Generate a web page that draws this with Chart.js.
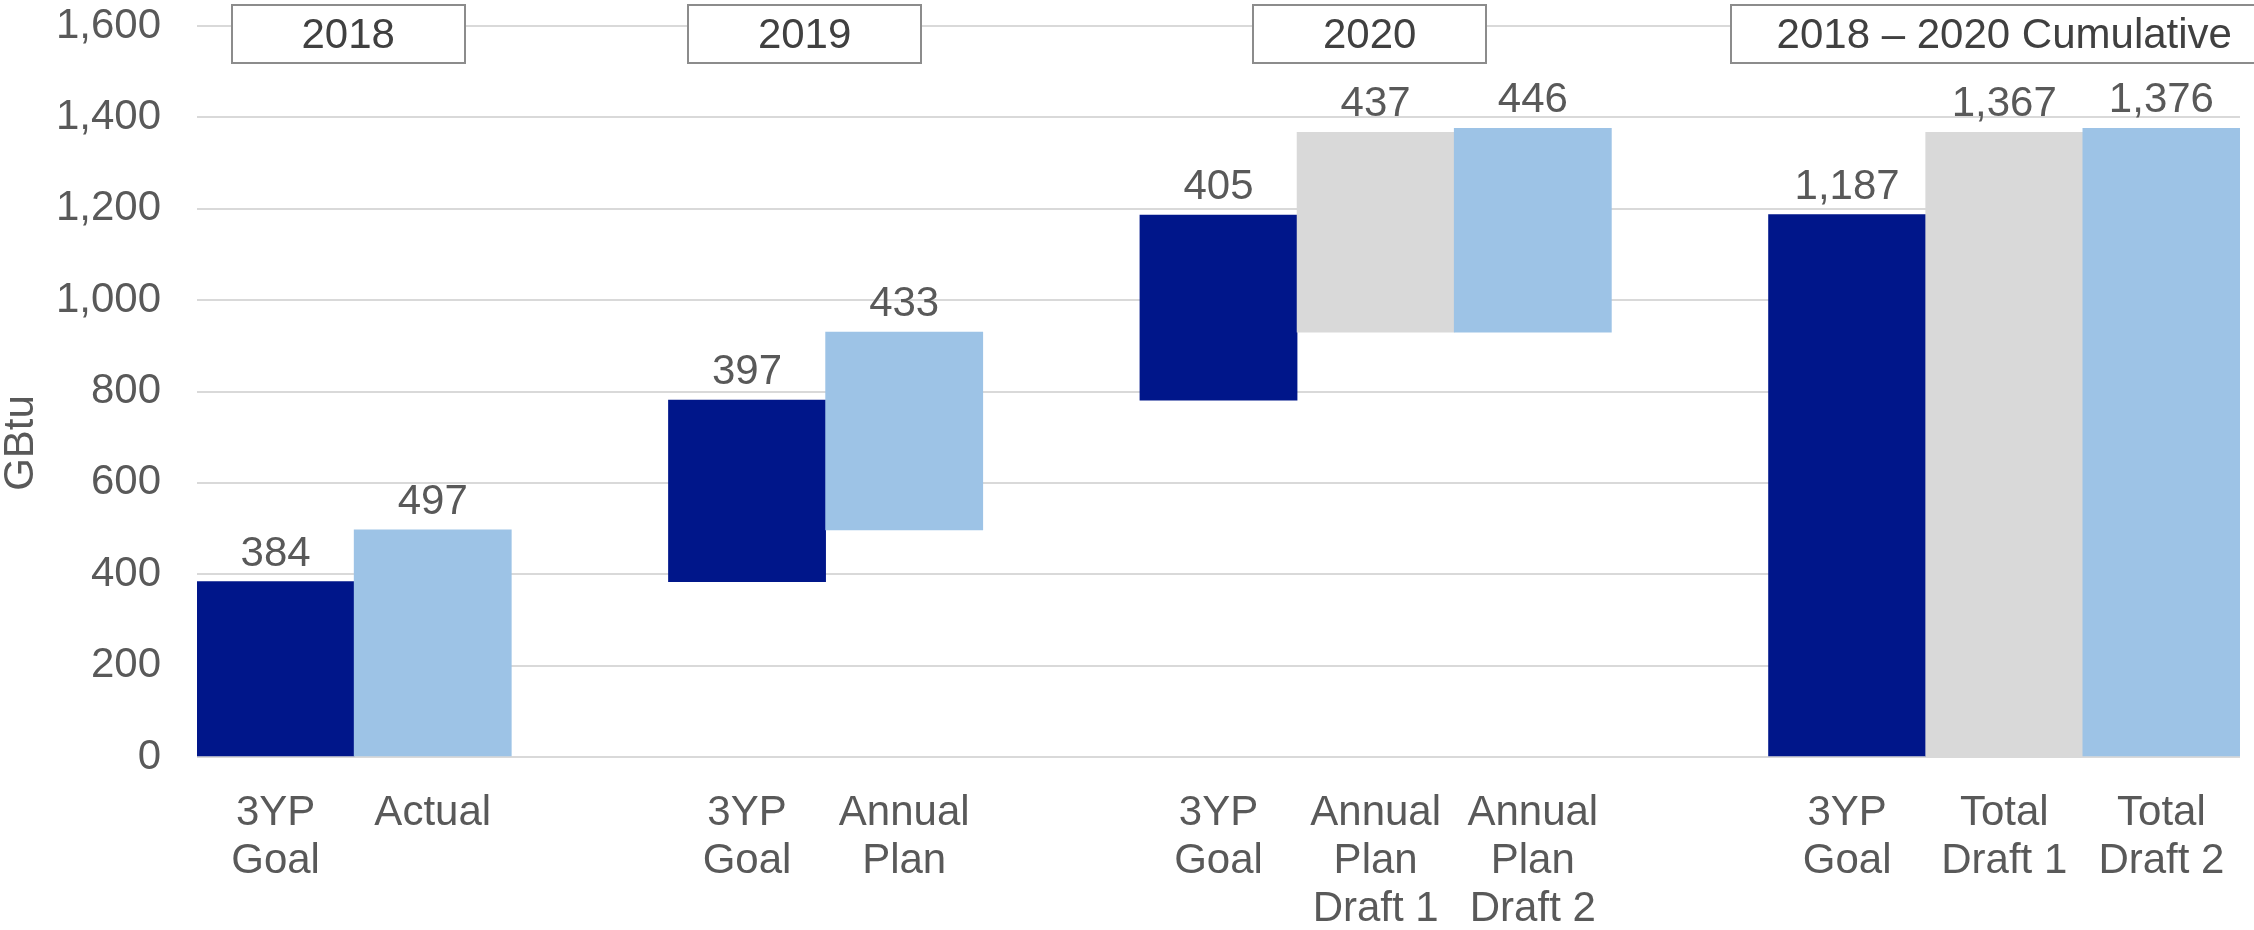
<!DOCTYPE html>
<html>
<head>
<meta charset="utf-8">
<script src="https://cdn.jsdelivr.net/npm/chart.js@4.4.1/dist/chart.umd.min.js"></script>
<style>
  html, body { margin: 0; padding: 0; background: #ffffff; }
  #wrap { width: 2254px; height: 930px; position: relative; }
</style>
</head>
<body>
<div id="wrap"><canvas id="gbtuChart"></canvas></div>
<script>
// categories (empty slots are the gaps between the year groups)
const categories = [
  ['3YP', 'Goal'], ['Actual'], '',
  ['3YP', 'Goal'], ['Annual', 'Plan'], '',
  ['3YP', 'Goal'], ['Annual', 'Plan', 'Draft 1'], ['Annual', 'Plan', 'Draft 2'], '',
  ['3YP', 'Goal'], ['Total', 'Draft 1'], ['Total', 'Draft 2']
];
// where each floating bar starts, and its shown value
const barBase  = [0, 0, null, 384, 497, null, 781, 930, 930, null, 0, 0, 0];
const barValue = [384, 497, null, 397, 433, null, 405, 437, 446, null, 1187, 1367, 1376];
// kind of bar: goal / plan / draft1
const barKind  = ['goal', 'plan', null, 'goal', 'plan', null, 'goal', 'draft1', 'plan', null, 'goal', 'draft1', 'plan'];
// year header boxes: label, first and last category index
const groupLabels = ['2018', '2019', '2020', '2018 \u2013 2020 Cumulative'];
const groupFirst  = [0, 3, 6, 10];
const groupLast   = [1, 4, 8, 12];
const yTicks = [0, 200, 400, 600, 800, 1000, 1200, 1400, 1600];
const yTitle = 'GBtu';

const kindColor = { goal: '#00168A', plan: '#9DC3E6', draft1: '#D9D9D9' };
const FONT = '"Liberation Sans", Arial, sans-serif';
const TXT = '#595959';
const FSIZE = 42;

const floating = barBase.map((b, i) => b === null ? null : [b, b + barValue[i]]);

// value labels above each bar
const valueLabels = {
  id: 'valueLabels',
  afterDatasetsDraw(chart) {
    const ctx = chart.ctx;
    const meta = chart.getDatasetMeta(0);
    ctx.save();
    ctx.font = FSIZE + 'px ' + FONT;
    ctx.fillStyle = TXT;
    ctx.textAlign = 'center';
    ctx.textBaseline = 'alphabetic';
    meta.data.forEach((bar, i) => {
      if (barValue[i] === null) return;
      ctx.fillText(barValue[i].toLocaleString('en-US'), bar.x, bar.y - 16);
    });
    ctx.restore();
  }
};

// boxed year headers along the top, plus the rotated axis title
const groupBoxes = {
  id: 'groupBoxes',
  afterDraw(chart, args, opts) {
    const ctx = chart.ctx;
    const x = chart.scales.x;
    ctx.save();
    groupLabels.forEach((lbl, g) => {
      const cx = (x.getPixelForValue(groupFirst[g]) + x.getPixelForValue(groupLast[g])) / 2 + opts.offsets[g];
      const w = opts.widths[g];
      const left = Math.round(cx - w / 2);
      ctx.fillStyle = '#ffffff';
      ctx.fillRect(left, opts.top, w, opts.height);
      ctx.strokeStyle = '#8C8C8C';
      ctx.lineWidth = 2;
      ctx.strokeRect(left, opts.top, w, opts.height);
      ctx.fillStyle = '#404040';
      ctx.font = FSIZE + 'px ' + FONT;
      ctx.textAlign = 'center';
      ctx.textBaseline = 'middle';
      ctx.fillText(lbl, cx, opts.top + opts.height / 2 + 2);
    });

    // y title sits a bit below the plot's middle in the original
    ctx.translate(opts.titleX, opts.titleY);
    ctx.rotate(-Math.PI / 2);
    ctx.fillStyle = TXT;
    ctx.font = FSIZE + 'px ' + FONT;
    ctx.textAlign = 'center';
    ctx.textBaseline = 'middle';
    ctx.fillText(yTitle, 0, 0);
    ctx.restore();
  }
};

new Chart(document.getElementById('gbtuChart'), {
  type: 'bar',
  data: {
    labels: categories,
    datasets: [{
      data: floating,
      backgroundColor: barKind.map(k => k ? kindColor[k] : 'rgba(0,0,0,0)'),
      borderWidth: 0,
      barPercentage: 1.0,
      categoryPercentage: 1.0
    }]
  },
  options: {
    responsive: true,
    maintainAspectRatio: false,
    animation: false,
    layout: { padding: { top: 26, right: 14, left: 0, bottom: 0 } },
    plugins: {
      legend: { display: false },
      tooltip: { enabled: false },
      groupBoxes: {
        top: 5, height: 58,
        widths: [233, 233, 233, 546], offsets: [-6, -21, -6, 0],
        titleX: 21, titleY: 443
      }
    },
    scales: {
      x: {
        grid: { display: false },
        border: { display: false },
        ticks: {
          autoSkip: false,
          maxRotation: 0,
          padding: 24,
          color: TXT,
          font: { family: FONT, size: FSIZE, lineHeight: 1.15 }
        },
        afterFit(scale) { scale.height = 173; }
      },
      y: {
        min: 0,
        max: 1600,
        afterBuildTicks(scale) { scale.ticks = yTicks.map(v => ({ value: v })); },
        grid: { color: '#D9D9D9', lineWidth: 2, drawTicks: false, tickLength: 0 },
        border: { display: false },
        ticks: {
          padding: 36,
          color: TXT,
          font: { family: FONT, size: FSIZE },
          callback: v => v.toLocaleString('en-US')
        },
        afterFit(scale) {
          scale.width = 197;
          // tick padding would otherwise push the plot top down
          scale.paddingTop = 0;
          scale.paddingBottom = 0;
        }
      }
    }
  },
  plugins: [valueLabels, groupBoxes]
});
</script>
</body>
</html>
